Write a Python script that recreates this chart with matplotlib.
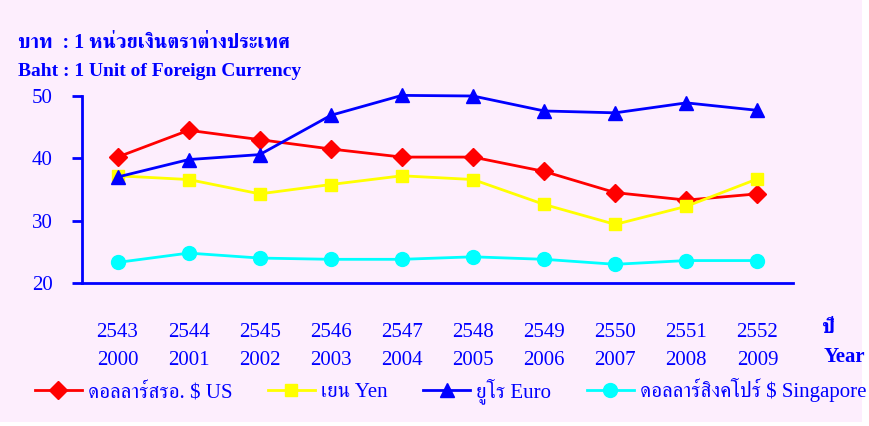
import matplotlib
matplotlib.use('Agg')
import matplotlib.pyplot as plt
from matplotlib import font_manager
from matplotlib.ft2font import FT2Font
from matplotlib.patches import Rectangle

years_th = ['2543', '2544', '2545', '2546', '2547', '2548', '2549', '2550', '2551', '2552']
years_en = ['2000', '2001', '2002', '2003', '2004', '2005', '2006', '2007', '2008', '2009']

usd = [40.2, 44.5, 43.0, 41.5, 40.2, 40.2, 37.9, 34.5, 33.3, 34.3]
yen = [37.2, 36.6, 34.3, 35.8, 37.2, 36.6, 32.6, 29.4, 32.3, 36.7]
euro = [37.0, 39.8, 40.6, 46.9, 50.1, 50.0, 47.6, 47.3, 48.9, 47.7]
sgd = [23.3, 24.8, 24.0, 23.8, 23.8, 24.2, 23.8, 23.0, 23.6, 23.6]

labels = ['ดอลลาร์สรอ. $ US', 'เยน Yen', 'ยูโร Euro', 'ดอลลาร์สิงคโปร์ $ Singapore']
yticks = [20, 30, 40, 50]

# find a font that can draw Thai
thai_fonts = []
for f in font_manager.fontManager.ttflist:
    try:
        ft = FT2Font(f.fname)
        if ft.get_char_index(ord('บ')) and ft.get_char_index(ord('ท')):
            thai_fonts.append(f.name)
    except Exception:
        pass
thai_fonts = sorted(set(thai_fonts), key=lambda n: ('Serif' not in n, n))
family = ['Liberation Serif'] + thai_fonts + ['DejaVu Sans']
plt.rcParams['font.family'] = family

blue = '#0000FF'
pink = '#FDEEFD'

fig = plt.figure(figsize=(8.7, 4.26), dpi=100, facecolor='white')
fig.patches.append(Rectangle((0, 4 / 426), 862 / 870, 422 / 426, transform=fig.transFigure,
                             facecolor=pink, edgecolor='none', zorder=-10))
ax = fig.add_axes([82 / 870, 1 - 283 / 426, (793 - 82) / 870, (283 - 96) / 426])
ax.patch.set_alpha(0)

x = list(range(len(years_en)))
ax.plot(x, usd, color='#FF0000', lw=2, marker='D', ms=9, label=labels[0], clip_on=False)
ax.plot(x, yen, color='#FFFF00', lw=2, marker='s', ms=8, label=labels[1], clip_on=False)
ax.plot(x, euro, color=blue, lw=2, marker='^', ms=10, label=labels[2], clip_on=False)
ax.plot(x, sgd, color='#00FFFF', lw=2, marker='o', ms=10, label=labels[3], clip_on=False)

ax.set_xlim(-0.5, 9.5)
ax.set_ylim(20, 50)
ax.set_yticks(yticks)
ax.set_xticks(x)
ax.set_xticklabels([a + '\n' + b for a, b in zip(years_th, years_en)], linespacing=1.6)
for s in ['top', 'right']:
    ax.spines[s].set_visible(False)
for s in ['left', 'bottom']:
    ax.spines[s].set_color(blue)
    ax.spines[s].set_linewidth(2)
ax.tick_params(axis='y', colors=blue, labelsize=15, length=7, width=2, direction='out', pad=14)
ax.tick_params(axis='x', colors=blue, labelsize=15, length=0, pad=29)

fig.text(18 / 870, 1 - 43 / 426, 'บาท  : 1 หน่วยเงินตราต่างประเทศ', color=blue,
         fontsize=14.5, fontweight='bold', va='center', ha='left')
fig.text(18 / 870, 1 - 71 / 426, 'Baht : 1 Unit of Foreign Currency', color=blue,
         fontsize=14, fontweight='bold', va='center', ha='left')
fig.text(822 / 870, 1 - 328 / 426, 'ปี', color=blue, fontsize=15, fontweight='bold',
         va='center', ha='left')
fig.text(824 / 870, 1 - 357 / 426, 'Year', color=blue, fontsize=15, fontweight='bold',
         va='center', ha='left')

leg = fig.legend(loc='center left', bbox_to_anchor=(35 / 870, 1 - 391 / 426), ncol=4,
                 frameon=False, fontsize=15, handlelength=2.25, columnspacing=1.7,
                 handletextpad=0.3, borderaxespad=0, borderpad=0)
for t in leg.get_texts():
    t.set_color(blue)

fig.savefig('out.png', dpi=100, facecolor='white')
